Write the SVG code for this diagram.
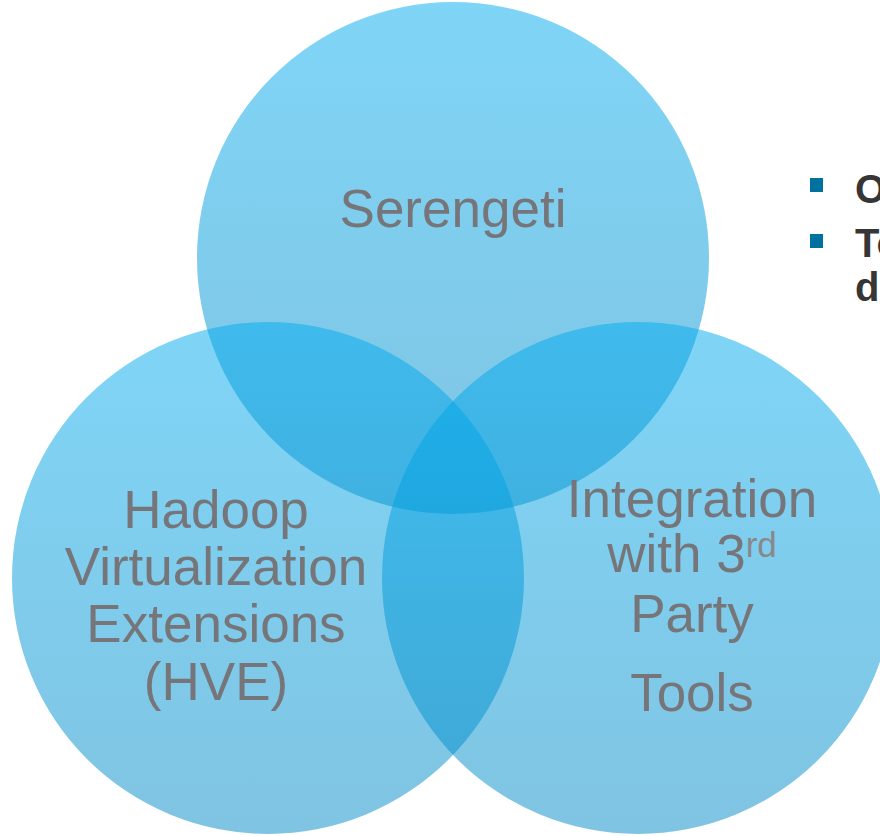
<svg xmlns="http://www.w3.org/2000/svg" width="880" height="836" viewBox="0 0 880 836">
  <defs>
    <linearGradient id="bubble" x1="0" y1="0" x2="0" y2="1">
      <stop offset="0" stop-color="#00ABEF"/>
      <stop offset="1" stop-color="#0189C5"/>
    </linearGradient>
  </defs>
  <style>
    .circle { fill: url(#bubble); fill-opacity: 0.5; }
    .label { font-family: "Liberation Sans", Arial, sans-serif; font-size: 53px; fill: #76767a; text-anchor: middle; }
    .sup { font-size: 35px; fill: #88888c; }
    .bullet { fill: #00709f; }
    .btext { font-family: "Liberation Sans", Arial, sans-serif; font-size: 40px; font-weight: bold; fill: #363636; }
  </style>
  <rect width="880" height="836" fill="#ffffff"/>
  <g id="serengeti">
    <circle class="circle" cx="453" cy="258" r="256"/>
  </g>
  <g id="hve">
    <circle class="circle" cx="268" cy="578" r="256"/>
  </g>
  <g id="integration">
    <circle class="circle" cx="638" cy="578" r="256"/>
  </g>
  <g id="labels">
    <text class="label" x="453" y="227">Serengeti</text>
    <text class="label" x="216" y="528">Hadoop</text>
    <text class="label" x="216" y="585">Virtualization</text>
    <text class="label" x="216" y="642">Extensions</text>
    <text class="label" x="216" y="700">(HVE)</text>
    <text class="label" x="692" y="517">Integration</text>
    <text class="label" x="692" y="572">with 3<tspan class="sup" dy="-15">rd</tspan></text>
    <text class="label" x="692" y="632">Party</text>
    <text class="label" x="692" y="711">Tools</text>
  </g>
  <g id="bullets">
    <rect class="bullet" x="810" y="178" width="13" height="14"/>
    <rect class="bullet" x="810" y="234" width="13" height="14"/>
    <text class="btext" x="855" y="203">O</text>
    <text class="btext" x="855" y="257">To</text>
    <text class="btext" x="855" y="301">d</text>
  </g>
</svg>
